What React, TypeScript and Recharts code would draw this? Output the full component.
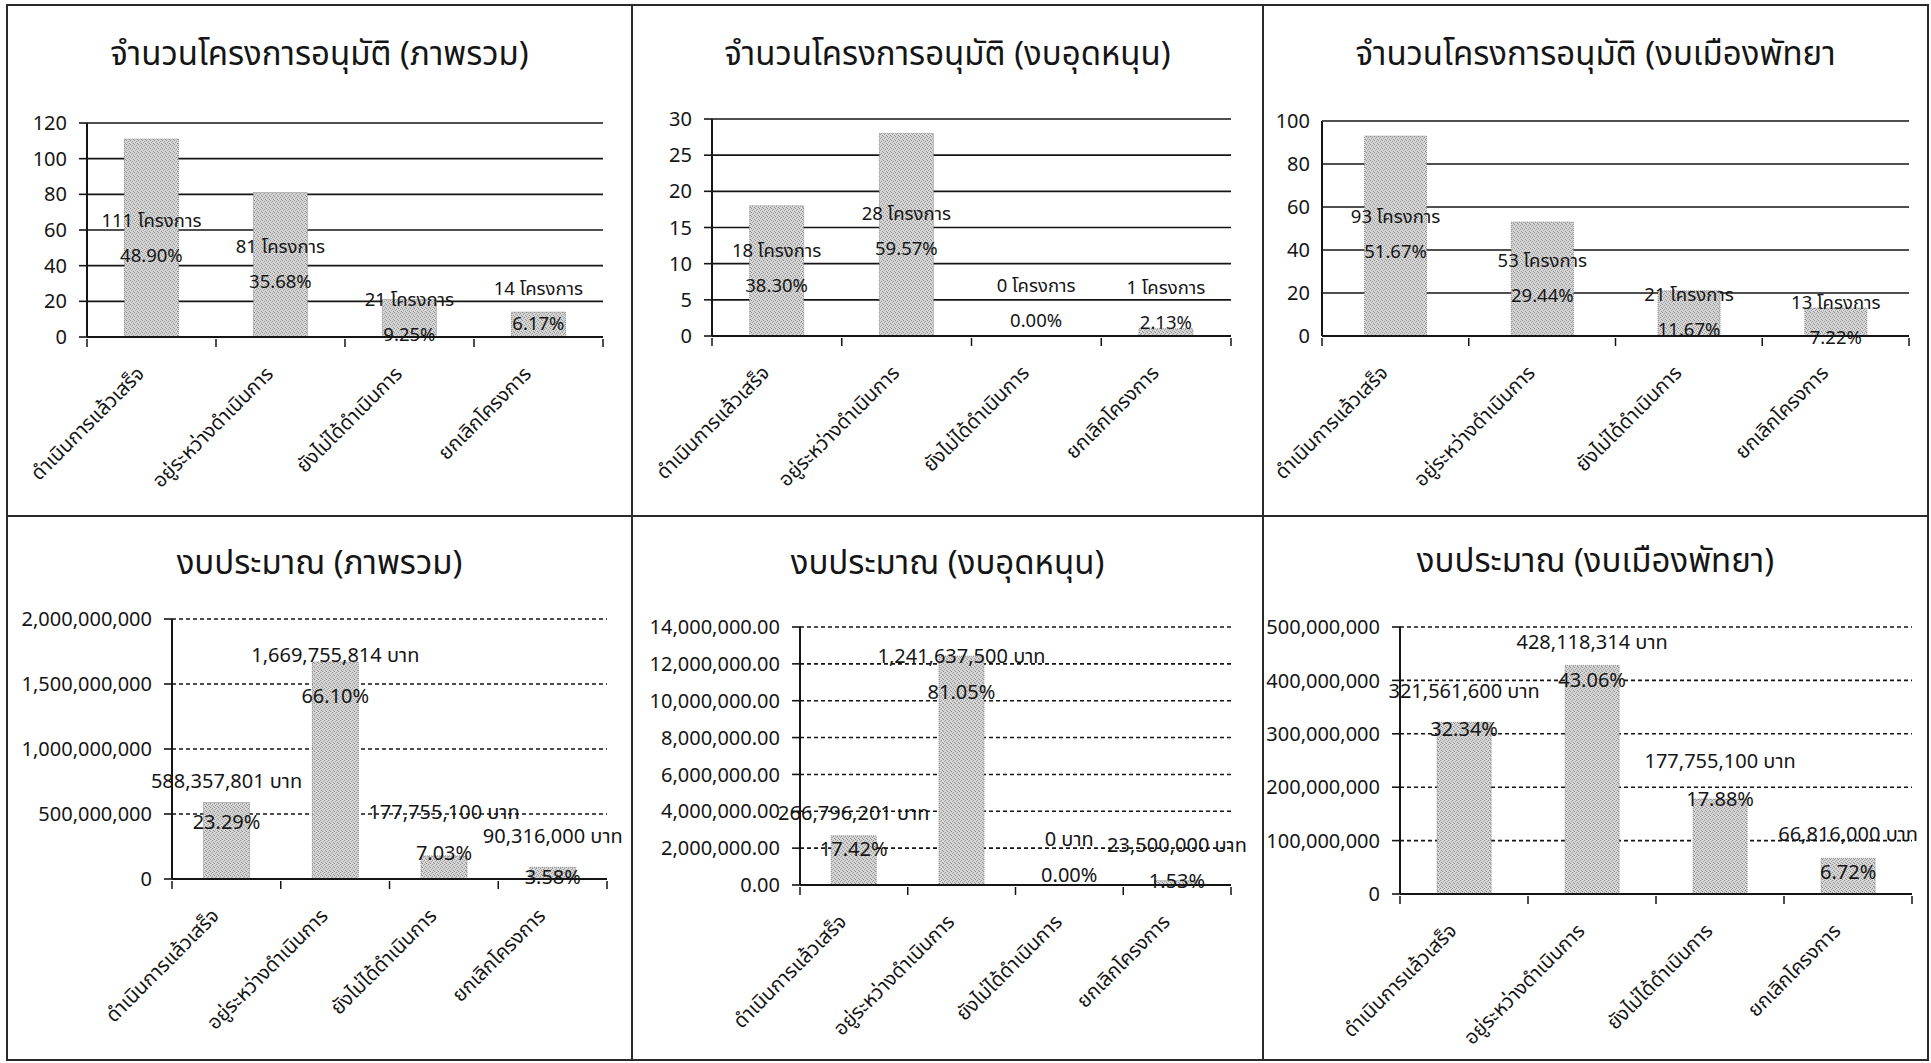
import React from 'react';
import { BarChart, Bar, XAxis, YAxis, CartesianGrid, LabelList } from 'recharts';

const categories = ['ดำเนินการแล้วเสร็จ', 'อยู่ระหว่างดำเนินการ', 'ยังไม่ได้ดำเนินการ', 'ยกเลิกโครงการ'];

// จำนวนโครงการ
const projectsAll = [111, 81, 21, 14];
const projectsAllPct = ['48.90%', '35.68%', '9.25%', '6.17%'];
const projectsSubsidy = [18, 28, 0, 1];
const projectsSubsidyPct = ['38.30%', '59.57%', '0.00%', '2.13%'];
const projectsPattaya = [93, 53, 21, 13];
const projectsPattayaPct = ['51.67%', '29.44%', '11.67%', '7.22%'];

// งบประมาณ (บาท)
const budgetAll = [588357801, 1669755814, 177755100, 90316000];
const budgetAllPct = ['23.29%', '66.10%', '7.03%', '3.58%'];
// the subsidy chart's axis is drawn in hundreds of baht
const budgetSubsidyAxis = [2667962.01, 12416375, 0, 235000];
const budgetSubsidy = [266796201, 1241637500, 0, 23500000];
const budgetSubsidyPct = ['17.42%', '81.05%', '0.00%', '1.53%'];
const budgetPattaya = [321561600, 428118314, 177755100, 66816000];
const budgetPattayaPct = ['32.34%', '43.06%', '17.88%', '6.72%'];

const ticks120 = [0, 20, 40, 60, 80, 100, 120];
const ticks30 = [0, 5, 10, 15, 20, 25, 30];
const ticks100 = [0, 20, 40, 60, 80, 100];
const ticks2b = [0, 500000000, 1000000000, 1500000000, 2000000000];
const ticks14m = [0, 2000000, 4000000, 6000000, 8000000, 10000000, 12000000, 14000000];
const ticks500m = [0, 100000000, 200000000, 300000000, 400000000, 500000000];

const FONT = 'Tahoma, "Noto Sans Thai", "Noto Sans", sans-serif';
const INK = '#151515';

const fmtInt = (v: number) => v.toLocaleString('en-US');
const fmt2 = (v: number) => v.toLocaleString('en-US', { minimumFractionDigits: 2, maximumFractionDigits: 2 });

interface PanelProps {
  id: string;
  left: number;
  top: number;
  w: number;
  h: number;
  title: string;
  titleY: number;
  values: number[];
  line1: string[];
  line2: string[];
  ticks: number[];
  plot: { l: number; r: number; t: number; b: number };
  dashed?: boolean;
  tickFmt?: (v: number) => string;
  atTop?: boolean;
  dy: number[];
  gap: number;
  labelSize: number;
  yTickSize?: number;
}

const Panel = (p: PanelProps) => {
  const data = categories.map((name, i) => ({ name, value: p.values[i] }));
  const xAxisH = 130;
  const margin = { top: p.plot.t, right: p.w - p.plot.r, left: 0, bottom: p.h - p.plot.b - xAxisH };
  const band = (p.plot.r - p.plot.l) / categories.length;

  const CatTick = (tp: any) => {
    const { x, y, payload, index } = tp;
    const last = index === categories.length - 1;
    return (
      <g>
        <line x1={x - band / 2} x2={x - band / 2} y1={y} y2={y + 8} stroke={INK} strokeWidth={1.5} />
        {last && <line x1={x + band / 2} x2={x + band / 2} y1={y} y2={y + 8} stroke={INK} strokeWidth={1.5} />}
        <g transform={`translate(${x - 6},${y + 36})`}>
          <text textAnchor="end" transform="rotate(-45)" fontSize={20} fill={INK} fontFamily={FONT}>
            {payload.value}
          </text>
        </g>
      </g>
    );
  };

  const renderLabel = (lp: any) => {
    const { x, y, width, height, value } = lp;
    const index = categories.indexOf(value);
    if (index < 0) return null;
    const cx = Number(x) + Number(width) / 2;
    const base = p.atTop ? Number(y) : Number(y) + Number(height) / 2;
    const cy = base + p.dy[index];
    return (
      <g>
        <text x={cx} y={cy - p.gap / 2} textAnchor="middle" dominantBaseline="central" fontSize={p.labelSize} fill={INK} fontFamily={FONT}>
          {p.line1[index]}
        </text>
        <text x={cx} y={cy + p.gap / 2} textAnchor="middle" dominantBaseline="central" fontSize={p.labelSize} fill={INK} fontFamily={FONT}>
          {p.line2[index]}
        </text>
      </g>
    );
  };

  const patId = `stipple-${p.id}`;

  return (
    <div
      style={{
        position: 'absolute',
        left: p.left,
        top: p.top,
        width: p.w,
        height: p.h,
        border: '2px solid #2a2a2a',
        boxSizing: 'border-box',
        background: '#fff',
      }}
    >
      <div
        style={{
          position: 'absolute',
          left: 0,
          width: '100%',
          top: p.titleY - 22,
          textAlign: 'center',
          fontFamily: FONT,
          fontSize: 33,
          color: INK,
          lineHeight: '44px',
          whiteSpace: 'nowrap',
        }}
      >
        {p.title}
      </div>
      <div style={{ position: 'absolute', left: -2, top: -2 }}>
        <BarChart width={p.w} height={p.h} data={data} margin={margin} barCategoryGap="29%">
          <defs>
            <pattern id={patId} width={4} height={4} patternUnits="userSpaceOnUse">
              <rect width={4} height={4} fill="#d6d6d6" />
              <rect x={0} y={0} width={1} height={1} fill="#8a8a8a" />
              <rect x={2} y={1} width={1} height={1} fill="#969696" />
              <rect x={1} y={2} width={1} height={1} fill="#a0a0a0" />
              <rect x={3} y={3} width={1} height={1} fill="#909090" />
            </pattern>
          </defs>
          <CartesianGrid
            vertical={false}
            stroke={INK}
            strokeWidth={1.6}
            strokeDasharray={p.dashed ? '4 3' : undefined}
          />
          <XAxis
            dataKey="name"
            interval={0}
            height={xAxisH}
            tick={<CatTick />}
            tickLine={false}
            tickSize={0}
            axisLine={{ stroke: INK, strokeWidth: 2 }}
          />
          <YAxis
            width={p.plot.l}
            domain={[p.ticks[0], p.ticks[p.ticks.length - 1]]}
            ticks={p.ticks}
            interval={0}
            tickFormatter={p.tickFmt}
            tick={{ fill: INK, fontSize: 20, fontFamily: FONT }}
            tickSize={p.yTickSize ?? 8}
            tickMargin={12}
            tickLine={{ stroke: INK, strokeWidth: 1.6 }}
            axisLine={{ stroke: INK, strokeWidth: 2 }}
          />
          <Bar
            dataKey="value"
            fill={`url(#${patId})`}
            stroke="#8a8a8a"
            strokeDasharray="1 1"
            minPointSize={(v: number) => (v === 0 ? 0.01 : 0)}
            isAnimationActive={false}
          >
            <LabelList dataKey="name" content={renderLabel} />
          </Bar>
        </BarChart>
      </div>
    </div>
  );
};

export default function App() {
  return (
    <div style={{ position: 'absolute', left: 0, top: 0, width: 1931, height: 1063, background: '#fff', overflow: 'hidden' }}>
      <Panel
        id="a" left={6} top={4} w={627} h={513}
        title="จำนวนโครงการอนุมัติ (ภาพรวม)" titleY={49}
        values={projectsAll} line1={projectsAll.map((v) => `${v} โครงการ`)} line2={projectsAllPct}
        ticks={ticks120} plot={{ l: 81, r: 597, t: 119, b: 333 }}
        dy={[0, 0, -1, -18]} gap={35} labelSize={18.5}
      />
      <Panel
        id="b" left={631} top={4} w={633} h={513}
        title="จำนวนโครงการอนุมัติ (งบอุดหนุน)" titleY={49}
        values={projectsSubsidy} line1={projectsSubsidy.map((v) => `${v} โครงการ`)} line2={projectsSubsidyPct}
        ticks={ticks30} plot={{ l: 81, r: 600, t: 115, b: 332 }}
        dy={[-2, -3, -32, -27]} gap={35} labelSize={18.5}
      />
      <Panel
        id="c" left={1262} top={4} w={667} h={513}
        title="จำนวนโครงการอนุมัติ (งบเมืองพัทยา" titleY={49}
        values={projectsPattaya} line1={projectsPattaya.map((v) => `${v} โครงการ`)} line2={projectsPattayaPct}
        ticks={ticks100} plot={{ l: 60, r: 647, t: 117, b: 332 }} yTickSize={0}
        dy={[-2, -1, -1, -2]} gap={35} labelSize={18.5}
      />
      <Panel
        id="d" left={6} top={515} w={627} h={546}
        title="งบประมาณ (ภาพรวม)" titleY={47}
        values={budgetAll} line1={budgetAll.map((v) => `${fmtInt(v)} บาท`)} line2={budgetAllPct}
        ticks={ticks2b} plot={{ l: 166, r: 601, t: 104, b: 364 }} dashed tickFmt={fmtInt} atTop
        dy={[0, 15, -22, -10]} gap={41} labelSize={20}
      />
      <Panel
        id="e" left={631} top={515} w={633} h={546}
        title="งบประมาณ (งบอุดหนุน)" titleY={47}
        values={budgetSubsidyAxis} line1={budgetSubsidy.map((v) => `${fmtInt(v)} บาท`)} line2={budgetSubsidyPct}
        ticks={ticks14m} plot={{ l: 169, r: 600, t: 112, b: 370 }} dashed tickFmt={fmt2} atTop
        dy={[-4, 19, -27, -17]} gap={36} labelSize={20}
      />
      <Panel
        id="f" left={1262} top={515} w={667} h={546}
        title="งบประมาณ (งบเมืองพัทยา)" titleY={45}
        values={budgetPattaya} line1={budgetPattaya.map((v) => `${fmtInt(v)} บาท`)} line2={budgetPattayaPct}
        ticks={ticks500m} plot={{ l: 138, r: 650, t: 112, b: 379 }} dashed tickFmt={fmtInt} atTop
        dy={[-11, -3, -18, -4]} gap={38} labelSize={20}
      />
    </div>
  );
}
